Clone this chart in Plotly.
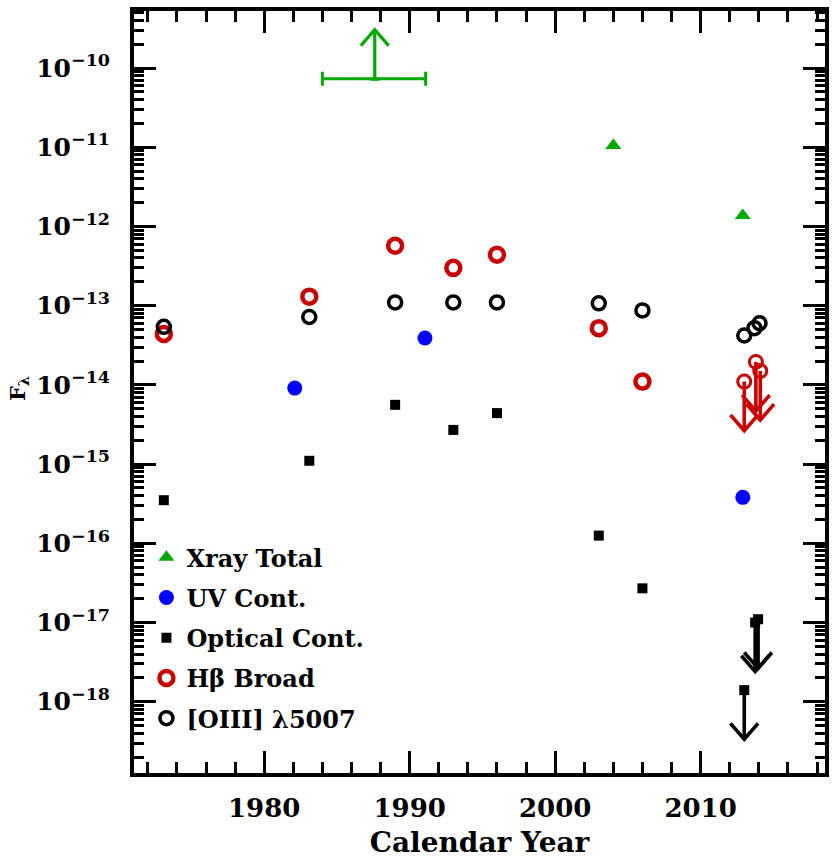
import numpy as np
import plotly.graph_objects as go

# ---------------- data ----------------
xray_year = [2004.0, 2012.9]
xray_flux = [1.05e-11, 1.37e-12]
xray_lim_year = [1987.6]
xray_lim_flux = [7.3e-11]
xray_lim_err_plus = [3.5]
xray_lim_err_minus = [3.6]

uv_year = [1982.1, 1991.05, 2012.9]
uv_flux = [9.1e-15, 3.9e-14, 3.8e-16]

opt_year = [1973.1, 1983.1, 1989.0, 1993.0, 1996.0, 2003.0, 2006.0]
opt_flux = [3.5e-16, 1.1e-15, 5.6e-15, 2.7e-15, 4.4e-15, 1.25e-16, 2.7e-17]
opt_lim_year = [2013.75, 2013.95, 2013.0]
opt_lim_flux = [1.0e-17, 1.1e-17, 1.4e-18]

hb_year = [1973.1, 1983.1, 1989.0, 1993.0, 1996.0, 2003.0, 2006.0]
hb_flux = [4.4e-14, 1.3e-13, 5.7e-13, 3.0e-13, 4.4e-13, 5.2e-14, 1.1e-14]
hb_lim_year = [2013.0, 2013.8, 2014.1]
hb_lim_flux = [1.1e-14, 1.95e-14, 1.5e-14]

oiii_year = [1973.1, 1983.1, 1989.0, 1993.0, 1996.0, 2003.0, 2006.0, 2013.0, 2013.7, 2014.05]
oiii_flux = [5.4e-14, 7.2e-14, 1.1e-13, 1.1e-13, 1.1e-13, 1.07e-13, 8.7e-14, 4.2e-14, 5.2e-14, 6.0e-14]

y_tick_exp = [-18, -17, -16, -15, -14, -13, -12, -11, -10]
x_tick_years = [1980, 1990, 2000, 2010]

# limit-arrow geometry (axis units: years, dex)
ARROW_DEX = 0.62
HEAD_HALF_YR = 0.95
HEAD_DEX = 0.2

GREEN = "#00a800"
BLUE = "#0000ff"
RED = "#c80000"
BLACK = "#000000"
FONT = "DejaVu Serif"

fig = go.Figure()


def limit_arrows(years, fluxes, color, direction, width, group):
    xs, ys = [], []
    for xv, fv in zip(years, fluxes):
        tip = fv * 10.0 ** (direction * ARROW_DEX)
        back = tip * 10.0 ** (-direction * HEAD_DEX)
        xs += [xv, xv, None, xv - HEAD_HALF_YR, xv, xv + HEAD_HALF_YR, None]
        ys += [fv, tip, None, back, tip, back, None]
    fig.add_trace(go.Scatter(
        x=xs, y=ys, mode="lines", showlegend=False, legendgroup=group,
        hoverinfo="skip",
        line=dict(color=color, width=width)))


limit_arrows(xray_lim_year, xray_lim_flux, GREEN, +1, 3.2, "a")
limit_arrows(opt_lim_year, opt_lim_flux, BLACK, -1, 3.6, "c")
limit_arrows(hb_lim_year, hb_lim_flux, RED, -1, 3.6, "d")

fig.add_trace(go.Scatter(
    x=xray_year, y=xray_flux, mode="markers", name="<b>Xray Total</b>",
    legendgroup="a",
    marker=dict(symbol="triangle-up", size=14, color=GREEN)))
fig.add_trace(go.Scatter(
    x=xray_lim_year, y=xray_lim_flux, mode="markers", showlegend=False,
    legendgroup="a",
    marker=dict(symbol="triangle-up", size=8, color=GREEN),
    error_x=dict(type="data", symmetric=False, array=xray_lim_err_plus,
                 arrayminus=xray_lim_err_minus, color=GREEN, thickness=3, width=7)))
fig.add_trace(go.Scatter(
    x=uv_year, y=uv_flux, mode="markers", name="<b>UV Cont.</b>",
    legendgroup="b",
    marker=dict(symbol="circle", size=15, color=BLUE)))
fig.add_trace(go.Scatter(
    x=opt_year, y=opt_flux, mode="markers", name="<b>Optical Cont.</b>",
    legendgroup="c",
    marker=dict(symbol="square", size=10, color=BLACK)))
fig.add_trace(go.Scatter(
    x=opt_lim_year, y=opt_lim_flux, mode="markers", showlegend=False,
    legendgroup="c",
    marker=dict(symbol="square", size=10, color=BLACK)))
fig.add_trace(go.Scatter(
    x=hb_year, y=hb_flux, mode="markers", name="<b>Hβ Broad</b>",
    legendgroup="d",
    marker=dict(symbol="circle-open", size=14, color=RED, line=dict(width=4.5, color=RED))))
fig.add_trace(go.Scatter(
    x=hb_lim_year, y=hb_lim_flux, mode="markers", showlegend=False,
    legendgroup="d",
    marker=dict(symbol="circle-open", size=13, color=RED, line=dict(width=3, color=RED))))
fig.add_trace(go.Scatter(
    x=oiii_year, y=oiii_flux, mode="markers", name="<b>[OIII] λ5007</b>",
    legendgroup="e",
    marker=dict(symbol="circle-open", size=13, color=BLACK, line=dict(width=3.5, color=BLACK))))

annotations = [dict(
    text="<b>F<sub>λ</sub></b>", xref="paper", yref="paper", x=-0.168, y=0.505,
    showarrow=False, textangle=-90, xanchor="center", yanchor="middle",
    font=dict(family=FONT, size=21, color=BLACK))]

y_minor = [m * 10.0 ** k for k in range(-19, -9) for m in range(2, 10)]

fig.update_layout(
    width=833, height=862,
    margin=dict(l=134, r=4, t=11, b=89),
    paper_bgcolor="white", plot_bgcolor="white",
    font=dict(family=FONT, size=25, color=BLACK),
    annotations=annotations,
    showlegend=True,
    legend=dict(
        x=0.018, y=0.312, xanchor="left", yanchor="top",
        bgcolor="rgba(0,0,0,0)", borderwidth=0,
        font=dict(family=FONT, size=24, color=BLACK),
        traceorder="grouped", tracegroupgap=6,
    ),
    xaxis=dict(
        range=[1971.05, 2018.55],
        tickmode="array", tickvals=x_tick_years,
        ticktext=[f"<b>{v}</b>" for v in x_tick_years],
        ticks="inside", ticklen=22, tickwidth=3, tickcolor=BLACK,
        showline=True, linewidth=4, linecolor=BLACK, mirror="ticks",
        showgrid=False, zeroline=False,
        ticklabelstandoff=9,
        tickfont=dict(family=FONT, size=26, color=BLACK),
        minor=dict(tickmode="linear", tick0=1970, dtick=2, ticks="inside",
                   ticklen=11, tickwidth=3, tickcolor=BLACK, showgrid=False),
        title=dict(text="<b>Calendar Year</b>", standoff=11,
                   font=dict(family=FONT, size=28, color=BLACK)),
    ),
    yaxis=dict(
        type="log", range=[-18.9, -9.28],
        tickmode="array", tickvals=[10.0 ** e for e in y_tick_exp],
        ticktext=[f"<b>10<sup>−{-e}</sup></b>" for e in y_tick_exp],
        ticks="inside", ticklen=22, tickwidth=3, tickcolor=BLACK,
        showline=True, linewidth=4, linecolor=BLACK, mirror="ticks",
        showgrid=False, zeroline=False,
        ticklabelstandoff=15,
        tickfont=dict(family=FONT, size=25, color=BLACK),
        minor=dict(tickmode="array", tickvals=y_minor, ticks="inside",
                   ticklen=10, tickwidth=2.5, tickcolor=BLACK, showgrid=False),
    ),
)

fig.write_html("out.html")
